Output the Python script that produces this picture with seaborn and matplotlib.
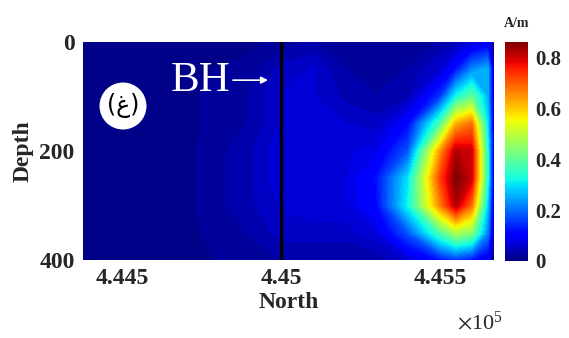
import numpy as np
import matplotlib
matplotlib.use("Agg")
import matplotlib.pyplot as plt
import seaborn as sns
from matplotlib.patches import Ellipse

# ---- data ----
north = [444377, 444500, 444700, 444900, 445000, 445100, 445200,
         445300, 445400, 445500, 445550, 445600, 445650, 445670]
depth = [0, 50, 100, 150, 200, 250, 300, 350, 400]
magn = [
    [.01, .01, .01, .01, .02, .03, .02, .02, .02, .03, .04, .06, .08, .02],
    [.01, .01, .01, .02, .05, .06, .03, .02, .03, .06, .12, .22, .26, .05],
    [.01, .01, .01, .03, .06, .06, .04, .03, .04, .15, .32, .40, .26, .05],
    [.01, .01, .01, .03, .06, .06, .06, .05, .11, .38, .62, .68, .30, .05],
    [.01, .01, .01, .04, .07, .07, .07, .08, .18, .64, .82, .80, .34, .05],
    [.01, .01, .01, .04, .07, .07, .07, .12, .30, .72, .86, .80, .34, .05],
    [.01, .01, .01, .04, .06, .07, .07, .11, .32, .66, .82, .68, .28, .05],
    [.01, .01, .01, .03, .05, .05, .05, .07, .18, .38, .48, .44, .22, .04],
    [.01, .01, .01, .02, .03, .03, .03, .03, .06, .12, .15, .12, .08, .02],
]
borehole_north = 445000
xtick_vals = [444500, 445000, 445500]
xtick_labels = ["4.445", "4.45", "4.455"]
ytick_vals = [0, 200, 400]
cbar_ticks = [0, 0.2, 0.4, 0.6, 0.8]
vmax = 0.86

sns.set_theme(style="white")
plt.rcParams['font.family'] = ['Liberation Serif', 'DejaVu Sans']
plt.rcParams['mathtext.fontset'] = 'stix'

fig = plt.figure(figsize=(5.69, 3.38), dpi=100)
ax = fig.add_axes([83/569, 1-260/338, 411/569, 218/338])
cax = fig.add_axes([505/569, 1-261/338, 23/569, 219/338])

X, Y = np.meshgrid(north, depth)
Z = np.array(magn)
levels = np.linspace(0, vmax, 60)
cs = ax.contourf(X, Y, Z, levels=levels, cmap="jet", vmin=0, vmax=vmax, extend="both")
ax.set_xlim(north[0], north[-1])
ax.set_ylim(400, 0)
ax.axvline(borehole_north, color="black", lw=2.4)

ax.set_xticks(xtick_vals)
ax.set_xticklabels(xtick_labels)
ax.set_yticks(ytick_vals)
ax.tick_params(length=0, labelsize=17, pad=6)
for lab in ax.get_xticklabels() + ax.get_yticklabels():
    lab.set_fontweight("bold")
ax.set_xlabel("North", fontsize=17, fontweight="bold", labelpad=2)
ax.set_ylabel("Depth", fontsize=17, fontweight="bold", labelpad=4)
for s in ax.spines.values():
    s.set_visible(False)

ax.text(0.965, -0.285, r"$\times\mathregular{10^5}$", transform=ax.transAxes,
        fontsize=16, ha="center", va="center")

# BH annotation
ax.text(444748, 72, "BH", color="white", fontsize=31, ha="center", va="center")
ax.annotate("", xy=(444968, 70), xytext=(444840, 70),
            arrowprops=dict(arrowstyle="-|>", color="white", lw=1.2,
                            mutation_scale=10))
ax.add_patch(Ellipse((40/411, 1-64/218), 47/411, 47/218, transform=ax.transAxes,
                     facecolor="white", edgecolor="none", zorder=5))
ax.text(40/411, 1-64/218, "(غ)", transform=ax.transAxes, fontsize=17,
        family="DejaVu Sans", ha="center", va="center", color="black", zorder=6)

# colorbar
sm = matplotlib.cm.ScalarMappable(norm=matplotlib.colors.Normalize(0, vmax), cmap="jet")
cb = fig.colorbar(sm, cax=cax, ticks=cbar_ticks)
cb.outline.set_visible(False)
cb.ax.tick_params(length=0, labelsize=15, pad=5)
cb.ax.set_yticklabels(["0", "0.2", "0.4", "0.6", "0.8"])
for lab in cb.ax.get_yticklabels():
    lab.set_fontweight("bold")
cb.ax.set_title("A/m", fontsize=10, fontweight="bold", pad=11)

fig.savefig("out.png", dpi=100)
